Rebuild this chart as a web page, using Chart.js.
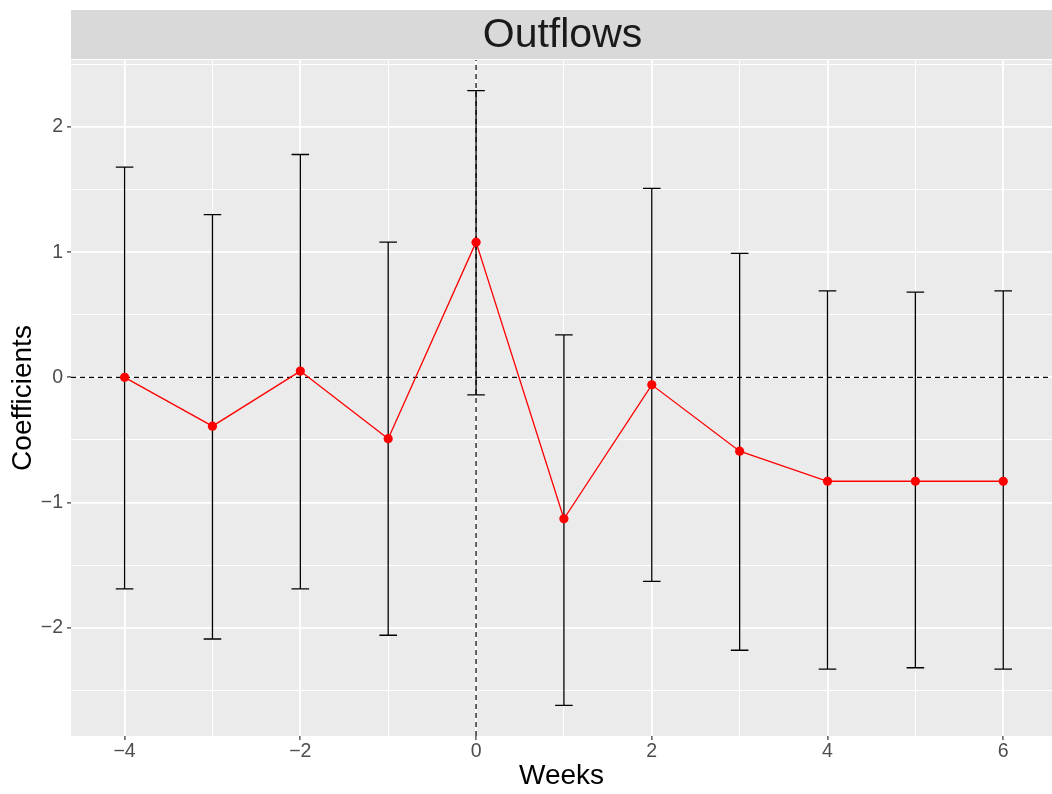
<!DOCTYPE html>
<html>
<head>
<meta charset="utf-8">
<script src="https://cdn.jsdelivr.net/npm/chart.js@4"></script>
<style>
html,body{margin:0;padding:0;background:#fff;}
#c{display:block;}
</style>
</head>
<body>
<canvas id="c" width="1052" height="794"></canvas>
<script>
// ---- data ----
const weeks  = [-4, -3, -2, -1, 0, 1, 2, 3, 4, 5, 6];
const coef   = [0.00, -0.39, 0.05, -0.49, 1.08, -1.13, -0.06, -0.59, -0.83, -0.83, -0.83];
const lower  = [-1.69, -2.09, -1.69, -2.06, -0.14, -2.62, -1.63, -2.18, -2.33, -2.32, -2.33];
const upper  = [1.68, 1.30, 1.78, 1.08, 2.29, 0.34, 1.51, 0.99, 0.69, 0.68, 0.69];
const xMajorTicks = [-4, -2, 0, 2, 4, 6];
const xMinorTicks = [-3, -1, 1, 3, 5];
const yMajorTicks = [-2, -1, 0, 1, 2];
const yMinorTicks = [-2.5, -1.5, -0.5, 0.5, 1.5, 2.5];
const panelTitle = 'Outflows';
const xTitle = 'Weeks';
const yTitle = 'Coefficients';

// ---- layout constants ----
const X_MIN = -4.61, X_MAX = 6.555;
const Y_MIN = -2.865, Y_MAX = 2.535;
const CAP = 0.1;
const FONT = '"Liberation Sans", Arial, Helvetica, sans-serif';

// error bar segments built from the arrays
const errData = [];
weeks.forEach((w, i) => {
  errData.push({x: w, y: lower[i]}, {x: w, y: upper[i]}, {x: w, y: null});
  errData.push({x: w - CAP, y: upper[i]}, {x: w + CAP, y: upper[i]}, {x: w, y: null});
  errData.push({x: w - CAP, y: lower[i]}, {x: w + CAP, y: lower[i]}, {x: w, y: null});
});
const lineData = weeks.map((w, i) => ({x: w, y: coef[i]}));

const fmt = v => (v < 0 ? '\u2212' + Math.abs(v) : String(v));
const isMajor = (list, v) => list.some(t => Math.abs(t - v) < 1e-9);

const panelPlugin = {
  id: 'panel',
  beforeDraw(chart) {
    const {ctx, chartArea: a} = chart;
    ctx.save();
    ctx.fillStyle = '#EBEBEB';
    ctx.fillRect(a.left, a.top, a.right - a.left, a.bottom - a.top);
    // strip
    ctx.fillStyle = '#D9D9D9';
    ctx.fillRect(a.left, 10, chart.width - a.left, 49);
    ctx.fillStyle = '#1A1A1A';
    ctx.font = '41px ' + FONT;
    ctx.textAlign = 'center';
    ctx.textBaseline = 'middle';
    ctx.fillText(panelTitle, (a.left + chart.width) / 2 + 1, 36);
    ctx.restore();
  }
};

new Chart(document.getElementById('c'), {
  type: 'scatter',
  data: {
    datasets: [
      {
        data: lineData,
        showLine: true,
        borderColor: '#FF0000',
        backgroundColor: '#FF0000',
        borderWidth: 1.3,
        pointRadius: 4.6,
        pointBorderWidth: 0,
        pointHoverRadius: 4.6,
        order: 0
      },
      {
        data: errData,
        showLine: true,
        spanGaps: false,
        borderColor: '#000000',
        borderWidth: 1.3,
        pointRadius: 0,
        pointHoverRadius: 0,
        order: 1
      },
      {
        data: [{x: X_MIN, y: 0}, {x: X_MAX, y: 0}],
        showLine: true,
        borderColor: '#000000',
        borderWidth: 1.2,
        borderDash: [5, 4],
        pointRadius: 0,
        order: 2
      },
      {
        data: [{x: 0, y: Y_MIN}, {x: 0, y: Y_MAX}],
        showLine: true,
        borderColor: '#000000',
        borderWidth: 1.2,
        borderDash: [5, 4],
        pointRadius: 0,
        order: 2
      }
    ]
  },
  options: {
    responsive: false,
    animation: false,
    devicePixelRatio: 1,
    events: [],
    layout: {autoPadding: false, padding: {top: 60, right: 0, bottom: 0, left: 0}},
    plugins: {legend: {display: false}, tooltip: {enabled: false}, title: {display: false}},
    scales: {
      x: {
        type: 'linear',
        min: X_MIN,
        max: X_MAX,
        afterBuildTicks(scale) {
          scale.ticks = xMajorTicks.concat(xMinorTicks).sort((a, b) => a - b).map(v => ({value: v}));
        },
        afterFit(scale) { scale.height = 58; scale.paddingLeft = 0; scale.paddingRight = 0; },
        ticks: {
          autoSkip: false,
          maxRotation: 0,
          padding: 0,
          color: '#4D4D4D',
          font: {family: FONT, size: 19.5},
          callback: v => (isMajor(xMajorTicks, v) ? fmt(v) : '')
        },
        grid: {
          color: '#FFFFFF',
          lineWidth: c => (c.tick && isMajor(xMajorTicks, c.tick.value) ? 1.8 : 1.0),
          tickLength: 4,
          tickColor: c => (c.tick && isMajor(xMajorTicks, c.tick.value) ? '#333333' : 'rgba(0,0,0,0)'),
          tickWidth: 1.2
        },
        border: {display: false},
        title: {
          display: true,
          text: xTitle,
          color: '#000000',
          font: {family: FONT, size: 28},
          padding: {top: 0, bottom: 1}
        }
      },
      y: {
        type: 'linear',
        min: Y_MIN,
        max: Y_MAX,
        afterBuildTicks(scale) {
          scale.ticks = yMajorTicks.concat(yMinorTicks).sort((a, b) => a - b).map(v => ({value: v}));
        },
        afterFit(scale) { scale.width = 71; scale.paddingTop = 0; scale.paddingBottom = 0; },
        ticks: {
          autoSkip: false,
          padding: 4,
          color: '#4D4D4D',
          font: {family: FONT, size: 19.5},
          callback: v => (isMajor(yMajorTicks, v) ? fmt(v) : '')
        },
        grid: {
          color: '#FFFFFF',
          lineWidth: c => (c.tick && isMajor(yMajorTicks, c.tick.value) ? 1.8 : 1.0),
          tickLength: 4,
          tickColor: c => (c.tick && isMajor(yMajorTicks, c.tick.value) ? '#333333' : 'rgba(0,0,0,0)'),
          tickWidth: 1.2
        },
        border: {display: false},
        title: {
          display: true,
          text: yTitle,
          color: '#000000',
          font: {family: FONT, size: 28},
          padding: {top: 6, bottom: 0}
        }
      }
    }
  },
  plugins: [panelPlugin]
});
</script>
</body>
</html>
